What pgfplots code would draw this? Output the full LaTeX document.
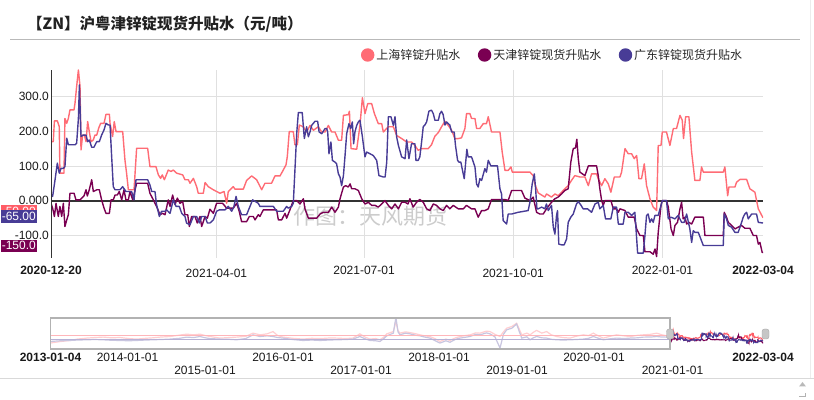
\documentclass[border=0pt]{standalone}
\usepackage{fontspec}
\setmainfont{Liberation Sans}
\newfontfamily\cjk{Noto Sans CJK SC}
\usepackage{pgfplots}
\usepackage{pgfplotstable}
\pgfplotsset{compat=1.18}
\definecolor{cRed}{RGB}{255,92,102}
\definecolor{cPur}{RGB}{122,0,82}
\definecolor{cBlu}{RGB}{72,60,150}
\definecolor{cGrid}{RGB}{224,224,224}
\definecolor{cTxt}{RGB}{34,34,34}

% x = days since 2020-12-20
\pgfplotstableread{
x y
0 170
1.4 170
2.1 230
3.9 230
5.1 213
5.5 79
8.0 79
8.6 237
9.7 223
10.7 237
11.7 262
14.2 262
14.8 281
15.8 329
16.9 377
17.9 329
18.5 146
19.5 189
20.6 189
21.6 170
22.6 228
23.6 199
24.7 170
26.1 175
27.1 189
28.2 189
29.4 209
30.6 223
32.7 223
33.9 249
36.0 249
36.4 223
38.0 185
39.0 228
40.1 199
44.2 199
45.6 117
46.6 79
47.7 31
51.2 31
52.8 151
59.6 151
61.0 98
64.7 98
66.2 74
67.6 64
68.6 74
69.9 60
72.3 88
74.0 84
75.4 88
77.5 79
81.2 74
82.6 60
84.7 60
85.7 50
87.8 64
89.8 40
90.8 21
93.9 21
95.0 52
97.0 40
100.1 31
104.2 21
106.7 26
108.3 -8
109.3 26
112.4 40
113.4 33
118.6 33
120.6 58
123.7 71
126.8 60
129.9 31
131.9 50
136.0 50
138.1 71
141.2 71
143.2 88
144.9 103
145.7 127
146.9 199
149.4 199
150.4 161
151.9 161
153.1 218
155.6 213
157.6 198
159.7 217
161.8 203
164.8 213
166.9 198
169.0 198
171.0 217
173.0 198
175.1 198
177.2 174
179.2 174
180.3 246
183.3 248
184.0 258
185.0 150
188.5 148
190.5 217
192.0 297
193.6 251
195.3 280
197.7 280
199.4 251
201.8 222
203.9 222
204.9 198
208.0 213
211.1 213
213.1 188
216.2 179
219.3 169
222.3 169
224.4 159
226.4 145
228.5 150
232.6 150
234.6 161
236.7 186
238.8 196
240.8 213
242.9 229
244.9 217
247.0 203
249.0 179
251.1 179
253.1 181
255.2 208
256.2 251
258.3 251
259.3 237
261.4 237
262.4 208
264.4 208
266.5 222
268.5 222
269.6 242
271.6 198
276.8 198
278.2 140
279.9 87
281.9 87
283.6 97
284.4 82
295.3 82
297.3 72
298.3 48
300.4 22
304.5 10
305.5 19
308.6 10
310.7 19
312.7 14
314.8 24
316.8 34
318.9 43
320.9 58
323.0 72
326.1 68
329.2 68
331.3 43
333.3 77
336.4 77
337.4 63
339.5 43
341.5 63
343.6 48
345.2 24
347.3 68
350.8 68
351.8 82
353.9 150
355.9 135
358.0 135
359.6 121
361.1 130
362.5 63
364.1 63
365.8 106
367.2 43
369.3 5
371.3 -19
373.4 -29
374.4 159
376.1 159
376.9 198
379.5 198
381.6 159
383.7 208
385.7 208
387.8 246
389.2 232
390.0 179
391.3 242
393.3 242
395.0 140
397.0 58
400.1 58
401.1 97
402.2 82
414.5 82
415.5 97
417.2 14
418.0 39
421.7 39
422.7 53
424.8 61
428.9 61
430.9 34
434.0 24
436.1 -24
439 -50
}\tblRed

\pgfplotstableread{
x y
0 -8
1.0 -22
2.1 -46
3.1 -8
4.5 -46
5.5 -17
6.6 -46
7.6 -8
8.6 -75
9.7 -56
10.7 -41
11.7 21
14.2 21
15.4 2
17.9 2
20.3 13
21.6 31
22.4 13
23.6 31
25.1 60
26.1 26
28.2 31
29.8 31
31.2 2
32.7 -22
33.9 -37
36.0 -37
37.0 2
38.4 2
39.5 16
40.9 16
42.1 26
43.6 2
45.0 31
46.2 2
47.7 2
48.7 26
50.4 2
52.8 50
59.6 50
61.0 21
63.1 2
65.1 -17
67.2 -41
68.8 -37
70.3 -41
72.3 2
73.4 -17
75.0 16
76.5 -12
77.9 7
79.5 -8
81.2 -3
82.6 -41
84.3 -41
85.3 -75
86.7 -46
88.8 -46
90.2 -65
91.9 -46
92.9 -75
95.0 -46
96.4 -51
98.0 -25
100.1 -37
102.1 -8
105.8 -8
108.3 -22
112.4 -22
114.5 -8
116.1 -32
117.5 -61
120.6 -61
122.3 -46
124.7 -46
125.8 -56
127.8 -41
128.8 -46
130.9 -27
139.1 -27
140.2 -56
142.2 -56
144.3 -37
145.3 -51
147.3 -27
149.4 0
151.5 0
153.5 -10
155.6 5
156.6 -24
158.7 -51
163.8 -51
165.9 -39
167.9 -34
171.0 -34
173.1 -19
175.1 -34
177.2 -19
178.2 5
180.3 39
181.7 43
183.3 39
184.4 48
185.4 34
187.4 34
189.5 29
191.6 5
193.6 -10
195.7 -5
197.7 -14
199.8 -14
201.8 -19
203.9 -10
205.9 0
208.0 -14
210.1 -24
212.1 -10
214.2 -24
216.2 -5
218.3 -5
220.1 -10
221.3 5
223.3 -19
225.4 -5
227.4 3
229.5 -5
231.6 -24
233.6 -29
235.7 -10
237.7 -14
239.8 -24
241.8 -29
243.9 -14
245.9 -24
248.0 -14
251.1 -24
254.2 -24
256.2 -14
259.3 -24
261.4 -24
263.4 -48
265.5 -29
267.5 -29
269.6 -24
271.6 3
279.9 3
281.9 0
284.0 29
290.1 29
292.2 7
295.3 0
297.3 10
299.4 -34
301.4 -39
303.5 -39
305.5 -24
308.6 -5
310.7 5
312.7 10
314.8 19
316.8 29
318.9 34
320.5 111
322.0 150
323.4 152
324.2 177
325.1 121
326.1 82
329.2 72
331.3 100
336.4 100
337.4 72
338.4 34
339.5 0
340.5 -14
341.5 0
345.2 0
346.7 -24
348.7 -24
349.8 -34
350.8 -24
353.9 -29
355.9 -48
359.6 -48
361.1 -82
363.1 -101
365.2 -101
366.2 -148
369.3 -148
371.3 -155
372.4 -140
373.4 -162
374.4 -92
376.1 -14
376.9 0
379.5 0
380.6 -19
382.3 -82
383.7 -101
384.7 -72
386.3 -63
387.8 -24
388.8 -5
389.8 -53
390.9 -48
391.9 -68
393.3 -63
395.0 -68
397.0 -48
402.2 -48
403.2 -101
414.5 -101
415.1 -34
416.5 -48
417.6 -63
419.6 -72
421.7 -82
423.7 -77
425.8 -72
427.8 -80
430.9 -80
433.0 -101
435.0 -101
436.1 -126
437.1 -121
438.5 -150
439 -150
}\tblPur

\pgfplotstableread{
x y
0 12
1.0 12
2.5 60
3.9 108
5.1 79
6.2 93
7.6 93
8.6 98
9.7 180
10.7 161
14.8 161
15.8 165
16.9 237
17.5 334
18.5 185
19.9 189
21.6 189
22.6 170
23.6 175
25.1 154
26.5 154
28.2 170
29.8 170
31.2 189
32.7 204
33.9 223
35.4 218
36.4 218
37.4 127
38.4 40
39.5 31
42.5 31
44.2 40
46.2 26
49.7 26
51.2 2
52.4 60
59.6 60
61.0 45
62.1 26
64.1 26
65.1 -12
66.8 -46
68.2 -31
70.3 -31
71.3 -27
73.4 -37
75.4 2
77.1 -17
79.1 -17
80.6 -37
82.6 -46
83.6 -65
85.7 -70
87.8 -46
89.8 -46
91.5 -65
92.9 -46
95.0 -46
96.4 -65
98.0 -65
100.1 -56
102.1 -31
103.8 -27
107.3 -27
109.3 -17
111.4 -31
112.8 -17
114.1 12
115.5 -17
117.5 -41
120.6 -41
122.7 -17
124.3 2
127.8 -8
128.8 -17
137.1 -17
139.1 -31
143.2 -31
145.3 -17
146.3 -22
148.4 -17
149.4 -8
150.4 88
151.5 194
152.5 254
154.9 254
156.2 179
157.6 213
158.7 184
159.7 198
160.7 217
162.8 229
164.4 229
165.3 198
166.9 193
169.0 208
170.0 208
170.6 198
171.4 135
172.6 169
173.5 116
175.1 111
176.1 106
177.2 77
178.2 68
179.2 43
180.3 72
181.3 130
182.3 193
183.7 222
184.8 208
185.8 227
186.6 164
187.4 198
188.5 217
189.5 227
190.5 232
192.0 184
193.6 126
194.6 140
196.7 135
198.7 130
200.8 116
202.2 72
204.9 68
206.0 68
207.0 111
208.0 242
209.6 242
211.1 217
212.1 242
213.1 184
214.2 159
216.2 126
218.3 121
219.3 175
220.7 121
222.3 164
224.4 164
225.0 116
226.4 116
227.4 126
228.5 169
229.5 213
230.5 218
231.6 227
233.0 258
234.6 261
235.7 251
236.7 232
238.8 232
239.8 251
240.8 258
241.8 248
242.9 218
243.9 227
245.9 218
247.0 198
248.6 198
249.4 159
250.7 116
251.5 111
252.7 111
253.5 92
254.8 63
255.6 106
256.4 148
257.2 126
259.3 126
261.4 97
262.4 48
263.4 39
264.4 63
265.5 58
267.5 92
268.5 82
269.6 116
271.2 100
275.3 100
276.8 34
277.8 19
278.8 -58
280.9 -68
281.9 -39
284.0 -39
288.0 -34
294.2 -29
295.3 -5
296.7 48
298.0 77
298.8 34
299.6 -24
300.4 -24
302.5 -19
304.5 -24
305.5 -10
306.6 -29
308.6 -14
309.7 -77
310.7 -97
311.7 -43
312.3 -29
313.1 -126
314.8 -128
316.4 -128
317.9 -111
318.9 -63
320.5 -48
322.0 -39
324.0 -10
325.1 -3
326.7 -13
328.1 -24
330.8 -24
333.3 -34
335.4 -10
337.4 -5
338.4 -24
340.5 -14
341.9 -53
345.2 -53
346.7 -19
348.7 -19
349.8 -68
352.8 -68
353.9 -34
355.9 -34
358.0 -43
360.0 -34
361.7 -152
365.2 -152
366.2 -101
367.2 -43
368.2 -39
369.3 -63
370.3 -53
371.3 -63
372.4 -43
374.4 -43
376.1 -14
376.9 0
379.5 0
380.6 -53
382.2 -48
384.7 -53
386.7 -43
388.8 -63
390.4 -63
391.9 -39
393.9 -82
395.0 -121
396.0 -87
397.0 -92
399.1 -92
402.2 -130
414.5 -130
415.1 -39
416.5 -53
417.6 -72
419.6 -77
421.7 -92
423.7 -92
425.8 -63
426.8 -48
427.8 -39
428.9 -34
429.9 -53
432.0 -39
435.0 -39
436.1 -63
439 -65
}\tblBlu

% overview (navigator) history, coarse
\pgfplotstableread{
x y
-2907 -150
-2860 -90
-2815 -48
-2780 10
-2737 48
-2700 70
-2660 88
-2620 60
-2581 72
-2540 30
-2502 8
-2460 40
-2426 60
-2390 90
-2346 112
-2300 170
-2267 208
-2235 180
-2205 208
-2180 150
-2158 112
-2111 48
-2070 70
-2033 88
-1990 120
-1956 248
-1923 180
-1890 220
-1862 312
-1840 150
-1815 88
-1770 40
-1721 8
-1680 40
-1641 28
-1600 50
-1563 48
-1520 30
-1487 48
-1454 220
-1430 90
-1407 8
-1380 30
-1360 -20
-1340 100
-1328 220
-1297 312
-1285 712
-1275 350
-1266 248
-1240 300
-1219 272
-1190 220
-1172 180
-1150 140
-1125 112
-1100 20
-1078 -88
-1050 10
-1031 -48
-1005 60
-984 112
-960 150
-937 180
-910 260
-890 248
-860 330
-843 312
-820 200
-796 112
-780 300
-765 448
-740 520
-718 648
-705 400
-694 180
-670 250
-655 180
-640 280
-624 360
-600 250
-577 312
-555 180
-530 112
-500 70
-467 48
-440 120
-405 180
-380 150
-358 248
-330 120
-311 48
-280 120
-248 180
-215 140
-185 112
-150 160
-123 180
-90 200
-60 248
-35 180
-13 140
0 170
}\tblRedH

\pgfplotstableread{
x y
-2907 -88
-2860 -60
-2815 -48
-2780 -30
-2737 -20
-2700 -10
-2660 -20
-2620 -40
-2581 -48
-2540 -60
-2502 -48
-2460 -30
-2426 -20
-2390 -10
-2346 8
-2300 40
-2267 88
-2235 70
-2205 112
-2180 60
-2158 28
-2111 8
-2070 0
-2033 -20
-1990 30
-1956 180
-1923 112
-1890 140
-1862 112
-1840 70
-1815 48
-1770 -10
-1721 -48
-1680 -30
-1641 -48
-1600 -30
-1563 -20
-1520 -10
-1487 8
-1454 112
-1430 20
-1407 -48
-1380 -60
-1360 -88
-1340 40
-1328 140
-1297 248
-1285 888
-1275 300
-1266 180
-1240 250
-1219 220
-1190 160
-1172 140
-1150 90
-1125 48
-1100 -60
-1078 -152
-1050 -60
-1031 -120
-1005 0
-984 48
-960 80
-937 112
-910 200
-890 180
-860 260
-843 220
-820 100
-796 -352
-780 200
-765 380
-740 450
-718 620
-705 300
-694 48
-670 100
-655 -20
-640 60
-624 112
-600 60
-577 48
-555 0
-530 -20
-500 -30
-467 -20
-440 -10
-405 8
-380 40
-358 112
-330 30
-311 -20
-280 20
-248 48
-215 30
-185 48
-150 60
-123 88
-90 90
-60 112
-35 90
-13 88
0 12
}\tblBluH

\begin{document}
\begin{tikzpicture}
\path[use as bounding box] (0pt,0pt) rectangle (814pt,399pt);

\begin{scope}[x=1pt,y=1pt]
% title and rule
\node[anchor=west, inner sep=0pt, text=cTxt] at (27,374.5)
  {\cjk\bfseries\fontsize{15.5}{18}\selectfont 【ZN】沪粤津锌锭现货升贴水（元/吨）};
\draw[gray!55, line width=1pt] (10,359.7) -- (800,359.7);
% watermark
\node[text=gray!40, inner sep=0pt] at (370,183)
  {\cjk\fontsize{22}{24}\selectfont 作图：天风期货};
% faint right edge strip
\draw[gray!15, line width=1pt] (810,20) -- (810,399);
\end{scope}

% main chart
\begin{axis}[
  at={(51pt,141pt)}, anchor=south west,
  scale only axis, width=712pt, height=188pt,
  xmin=0, xmax=439, ymin=-166, ymax=377,
  axis line style={draw=none},
  clip mode=individual,
  major tick length=0pt,
  xtick={102,193,285,377},
  xticklabels={{\raisebox{-11.5pt}{2021-04-01}},{2021-07-01},{\raisebox{-11.5pt}{2021-10-01}},{2022-01-01}},
  extra x ticks={0,439},
  extra x tick labels={{\bfseries 2020-12-20},{\bfseries 2022-03-04}},
  extra x tick style={grid=none, major tick length=0pt},
  xmajorgrids,
  ytick={-100,100,200,300},
  yticklabels={-100.0,100.0,200.0,300.0},
  extra y ticks={0},
  extra y tick labels={0.000},
  extra y tick style={grid=major, major grid style={draw=black!80, line width=2pt}, major tick length=0pt},
  ymajorgrids,
  major grid style={draw=cGrid, line width=0.8pt},
  tick label style={font=\fontsize{12}{14}\selectfont, text=black!90},
  yticklabel style={anchor=east, inner sep=0pt, xshift=-2pt},
  xticklabel style={anchor=north, inner sep=0pt, yshift=-8pt},
  legend style={at={(axis description cs:0.4354,1.0798)}, anchor=west,
     draw=none, fill=none, inner sep=0pt, outer sep=0pt,
     font=\cjk\fontsize{12}{14}\selectfont, text=black!85,
     nodes={inner sep=0pt},
     /tikz/every odd column/.append style={column sep=2pt},
     /tikz/every even column/.append style={column sep=17.5pt}},
  legend columns=3,
  legend image code/.code={\fill (6pt,0pt) circle (6pt);},
]
\addplot[cRed!90, line width=1.4pt, line join=round] table {\tblRed};
\addlegendentry{上海锌锭升贴水}
\addplot[cPur, line width=1.4pt, line join=round] table {\tblPur};
\addlegendentry{天津锌锭现货升贴水}
\addplot[cBlu, line width=1.4pt, line join=round] table {\tblBlu};
\addlegendentry{广东锌锭现货升贴水}
\draw[black!80, line width=1pt] (rel axis cs:0,0) -- (rel axis cs:0,1);
% end-value tags on the y axis
\node[anchor=south east, fill=cRed, text=white, inner xsep=1pt, inner ysep=1pt, text height=9pt, text depth=1.5pt, font=\fontsize{12}{14}\selectfont, xshift=-14pt] at (axis cs:0,-50) {-50.00};
\node[anchor=south east, fill=cBlu, text=white, inner xsep=1pt, inner ysep=1pt, text height=9pt, text depth=1.5pt, font=\fontsize{12}{14}\selectfont, xshift=-14pt] at (axis cs:0,-65) {-65.00};
\node[anchor=south east, fill=cPur, text=white, inner xsep=1pt, inner ysep=1pt, text height=9pt, text depth=1.5pt, font=\fontsize{12}{14}\selectfont, xshift=-14pt] at (axis cs:0,-150) {-150.0};
\end{axis}

% navigator
\begin{axis}[
  at={(50.5pt,50pt)}, anchor=south west,
  scale only axis, width=712.5pt, height=31pt,
  xmin=-2907, xmax=439, ymin=-392, ymax=860,
  hide axis,
]
\addplot[cRed!30, line width=1.2pt] table {\tblRedH};
\addplot[cBlu!30, line width=1.2pt] table {\tblBluH};
\addplot[cRed!45, line width=0.8pt] coordinates {(-2907,152) (0,152)};
\addplot[cBlu!40, line width=0.8pt] coordinates {(-2907,-20) (0,-20)};
\addplot[cRed, line width=1pt] table {\tblRed};
\addplot[cPur, line width=1pt] table {\tblPur};
\addplot[cBlu, line width=1pt] table {\tblBlu};
\end{axis}

\begin{scope}[x=1pt,y=1pt]
\draw[gray!60, line width=1.5pt] (50.5,50) rectangle (670,81);
\draw[fill=gray!45, draw=gray!70, rounded corners=2.5pt] (666.5,60) rectangle (673.5,70);
\draw[fill=gray!45, draw=gray!70, rounded corners=2.5pt] (762,60) rectangle (769,70);
\begin{scope}[every node/.style={font=\fontsize{12}{14}\selectfont, inner sep=0pt, text=black!90}]
\node[font=\fontsize{12}{14}\selectfont\bfseries] at (50.5,42) {2013-01-04};
\node at (127.5,42) {2014-01-01};
\node at (205,29) {2015-01-01};
\node at (283,42) {2016-01-01};
\node at (361,29) {2017-01-01};
\node at (439,42) {2018-01-01};
\node at (517,29) {2019-01-01};
\node at (594,42) {2020-01-01};
\node at (672.5,29) {2021-01-01};
\node[font=\fontsize{12}{14}\selectfont\bfseries] at (763,42) {2022-03-04};
\end{scope}
% bottom text box strip
\draw[gray!30, line width=1pt] (0,20) -- (814,20);
\fill[gray!55] (799,12.5) -- (806,12.5) -- (802.5,17) -- cycle;
\draw[gray!60, line width=0.8pt] (805,6) -- (805,3) -- (799,3);
\end{scope}
\end{tikzpicture}
\end{document}
